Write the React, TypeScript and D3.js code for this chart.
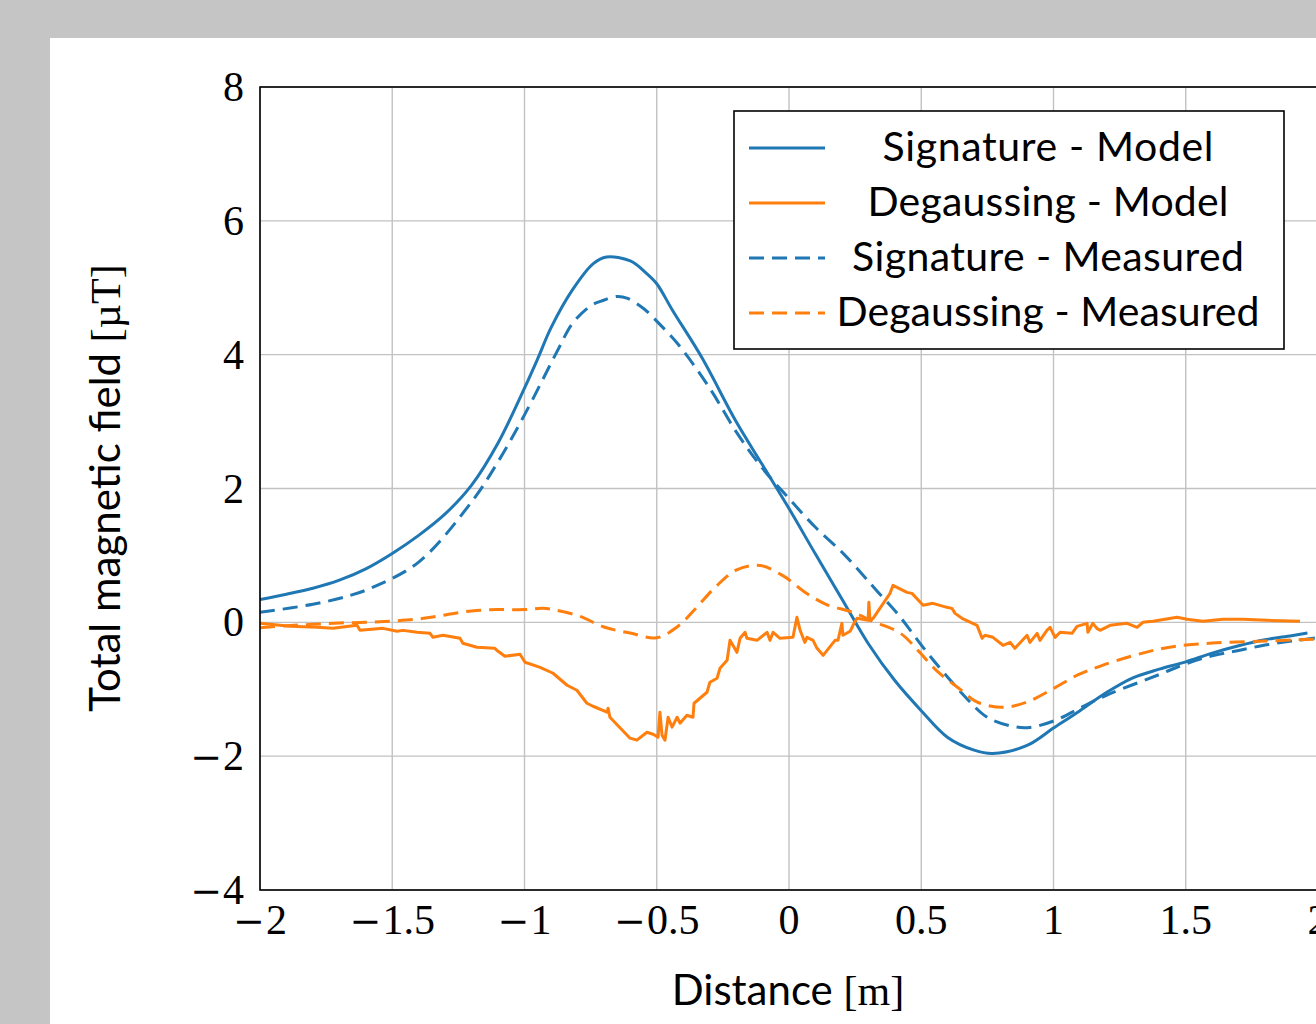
import React from "react";
import * as d3 from "d3";

// ---------- data (x in m, y in µT) ----------
const sigModelX = [-2.0, -1.9, -1.8, -1.7, -1.6, -1.5, -1.4, -1.3, -1.2, -1.1, -1.0, -0.95, -0.9, -0.82, -0.74, -0.69, -0.6, -0.54, -0.5, -0.44, -0.33, -0.2, -0.1, 0.0, 0.1, 0.2, 0.3, 0.4, 0.5, 0.6, 0.7, 0.77, 0.9, 1.0, 1.1, 1.2, 1.3, 1.4, 1.5, 1.6, 1.7, 1.8, 1.9, 1.96];
const sigModelY = [0.34, 0.42, 0.51, 0.63, 0.8, 1.03, 1.3, 1.62, 2.05, 2.68, 3.5, 3.94, 4.4, 4.96, 5.36, 5.46, 5.4, 5.22, 5.06, 4.66, 3.96, 3.0, 2.35, 1.7, 1.02, 0.35, -0.32, -0.87, -1.32, -1.72, -1.91, -1.96, -1.84, -1.58, -1.32, -1.05, -0.83, -0.7, -0.59, -0.46, -0.35, -0.26, -0.2, -0.16];

const sigMeasX = [-2.0, -1.8, -1.66, -1.57, -1.4, -1.2, -1.1, -1.0, -0.87, -0.82, -0.75, -0.71, -0.65, -0.61, -0.55, -0.49, -0.42, -0.3, -0.2, -0.1, 0.0, 0.1, 0.2, 0.27, 0.33, 0.41, 0.47, 0.53, 0.6, 0.67, 0.75, 0.84, 0.91, 1.01, 1.1, 1.2, 1.4, 1.5, 1.6, 1.7, 1.8, 1.9, 2.0];
const sigMeasY = [0.15, 0.27, 0.4, 0.53, 0.9, 1.8, 2.4, 3.1, 4.1, 4.46, 4.73, 4.8, 4.87, 4.84, 4.69, 4.46, 4.16, 3.5, 2.85, 2.3, 1.85, 1.42, 1.05, 0.75, 0.48, 0.13, -0.18, -0.49, -0.82, -1.13, -1.42, -1.55, -1.57, -1.46, -1.28, -1.09, -0.78, -0.62, -0.5, -0.42, -0.34, -0.28, -0.23];

const degMeasX = [-2.0, -1.9, -1.8, -1.7, -1.6, -1.5, -1.4, -1.3, -1.2, -1.1, -1.0, -0.93, -0.88, -0.79, -0.7, -0.6, -0.5, -0.42, -0.35, -0.28, -0.2, -0.11, -0.02, 0.06, 0.14, 0.24, 0.32, 0.42, 0.49, 0.56, 0.65, 0.71, 0.81, 0.9, 1.0, 1.09, 1.18, 1.3, 1.4, 1.5, 1.6, 1.8, 2.0];
const degMeasY = [-0.08, -0.05, -0.03, -0.01, 0.0, 0.02, 0.05, 0.11, 0.17, 0.19, 0.19, 0.21, 0.18, 0.09, -0.07, -0.16, -0.23, -0.06, 0.22, 0.52, 0.78, 0.85, 0.69, 0.45, 0.27, 0.15, 0.01, -0.16, -0.43, -0.73, -1.01, -1.19, -1.27, -1.19, -0.99, -0.79, -0.65, -0.5, -0.4, -0.34, -0.31, -0.28, -0.25];

const degModelX = [-2.0, -1.887, -1.785, -1.724, -1.633, -1.622, -1.535, -1.482, -1.459, -1.406, -1.357, -1.346, -1.308, -1.244, -1.233, -1.18, -1.112, -1.1, -1.074, -1.017, -0.998, -0.941, -0.892, -0.839, -0.802, -0.764, -0.741, -0.688, -0.684, -0.677, -0.601, -0.575, -0.537, -0.514, -0.495, -0.488, -0.48, -0.469, -0.457, -0.442, -0.423, -0.412, -0.386, -0.363, -0.359, -0.31, -0.299, -0.272, -0.261, -0.234, -0.223, -0.212, -0.197, -0.185, -0.166, -0.159, -0.121, -0.083, -0.072, -0.06, -0.034, 0.015, 0.03, 0.042, 0.06, 0.068, 0.091, 0.106, 0.129, 0.174, 0.185, 0.2, 0.204, 0.231, 0.242, 0.257, 0.299, 0.302, 0.306, 0.318, 0.382, 0.393, 0.446, 0.465, 0.507, 0.544, 0.597, 0.616, 0.628, 0.654, 0.711, 0.73, 0.741, 0.771, 0.809, 0.836, 0.854, 0.9, 0.911, 0.938, 0.949, 0.975, 0.987, 1.006, 1.025, 1.07, 1.089, 1.127, 1.13, 1.149, 1.164, 1.176, 1.214, 1.278, 1.316, 1.338, 1.376, 1.467, 1.505, 1.565, 1.641, 1.716, 1.807, 1.932];
const degModelY = [-0.015, -0.06, -0.075, -0.09, -0.045, -0.12, -0.09, -0.134, -0.12, -0.149, -0.164, -0.224, -0.194, -0.239, -0.313, -0.373, -0.388, -0.433, -0.507, -0.478, -0.597, -0.672, -0.761, -0.94, -1.015, -1.209, -1.254, -1.343, -1.284, -1.418, -1.731, -1.761, -1.642, -1.672, -1.716, -1.343, -1.687, -1.761, -1.418, -1.567, -1.418, -1.507, -1.388, -1.418, -1.209, -1.045, -0.896, -0.836, -0.687, -0.567, -0.269, -0.343, -0.448, -0.239, -0.149, -0.239, -0.269, -0.149, -0.269, -0.149, -0.239, -0.224, 0.075, -0.119, -0.299, -0.224, -0.269, -0.388, -0.493, -0.269, -0.269, -0.015, -0.194, -0.134, -0.045, 0.06, 0.03, 0.299, 0.03, 0.06, 0.433, 0.552, 0.448, 0.433, 0.254, 0.284, 0.224, 0.209, 0.134, 0.06, -0.045, -0.239, -0.194, -0.224, -0.343, -0.299, -0.388, -0.194, -0.299, -0.164, -0.269, -0.119, -0.075, -0.224, -0.149, -0.164, -0.06, -0.015, -0.149, -0.015, -0.09, -0.119, -0.045, -0.015, -0.075, 0.0, 0.015, 0.075, 0.045, 0.015, 0.045, 0.045, 0.03, 0.015];

const xTicks = [-2, -1.5, -1, -0.5, 0, 0.5, 1, 1.5, 2];
const yTicks = [-4, -2, 0, 2, 4, 6, 8];
const legendLabels = ["Signature - Model", "Degaussing - Model", "Signature - Measured", "Degaussing - Measured"];
const legendWidths = [331, 361, 392, 423];

const BLUE = "#1f77b4";
const ORANGE = "#ff7f0e";

function fmt(v: number): { neg: boolean; s: string } {
  return { neg: v < 0, s: String(Math.abs(v)) };
}

export default function App() {
  const x = d3.scaleLinear().domain([-2, 2]).range([260, 1318]);
  const y = d3.scaleLinear().domain([-4, 8]).range([890, 87]);
  const smooth = d3
    .line<[number, number]>()
    .x((d) => x(d[0]))
    .y((d) => y(d[1]))
    .curve(d3.curveCatmullRom.alpha(0.5));
  const linear = d3
    .line<[number, number]>()
    .x((d) => x(d[0]))
    .y((d) => y(d[1]));
  const zip = (a: number[], b: number[]) => a.map((v, i) => [v, b[i]] as [number, number]);

  const series = [
    { d: zip(sigModelX, sigModelY), c: BLUE, dash: undefined as string | undefined, gen: smooth },
    { d: zip(degModelX, degModelY), c: ORANGE, dash: undefined, gen: linear },
    { d: zip(sigMeasX, sigMeasY), c: BLUE, dash: "15 8", gen: smooth },
    { d: zip(degMeasX, degMeasY), c: ORANGE, dash: "15 8", gen: smooth },
  ];

  const serif = "'Liberation Serif', 'Times New Roman', serif";
  const minusFont = "'DejaVu Serif', serif";
  const sans = "Lato, 'Open Sans', sans-serif";

  const tickText = (t: number) => {
    const f = fmt(t);
    return f.neg
      ? [
          <tspan key="m" fontFamily={minusFont} fontSize={38}>−</tspan>,
          <tspan key="n" dx={1}>{f.s}</tspan>,
        ]
      : f.s;
  };

  return (
    <svg
      width={1316}
      height={1024}
      style={{ position: "absolute", left: 0, top: 0, display: "block" }}
    >
      <rect x={0} y={0} width={1316} height={1024} fill="#c4c5c4" />
      <rect x={50} y={38} width={1266} height={986} fill="#ffffff" />
      <defs>
        <clipPath id="plotclip">
          <rect x={260} y={87} width={1058} height={803} />
        </clipPath>
      </defs>
      {/* grid */}
      <g stroke="#c2c2c2" strokeWidth={1.4}>
        {xTicks.map((t) => (
          <line key={"gx" + t} x1={x(t)} x2={x(t)} y1={y(8)} y2={y(-4)} />
        ))}
        {yTicks.map((t) => (
          <line key={"gy" + t} x1={x(-2)} x2={x(2)} y1={y(t)} y2={y(t)} />
        ))}
      </g>
      {/* series */}
      <g clipPath="url(#plotclip)" fill="none" strokeWidth={3} strokeLinejoin="round">
        {series.map((s, i) => (
          <path key={i} d={s.gen(s.d) || ""} stroke={s.c} strokeDasharray={s.dash} />
        ))}
      </g>
      {/* frame */}
      <rect x={x(-2)} y={y(8)} width={x(2) - x(-2)} height={y(-4) - y(8)} fill="none" stroke="#000" strokeWidth={1.6} />
      {/* tick labels */}
      <g fontFamily={serif} fontSize={42} fill="#000">
        {xTicks.map((t) => (
          <text key={"xt" + t} x={x(t)} y={934} textAnchor="middle">
            {tickText(t)}
          </text>
        ))}
        {yTicks.map((t) => (
          <text key={"yt" + t} x={244} y={y(t) + 14} textAnchor="end">
            {tickText(t)}
          </text>
        ))}
      </g>
      {/* axis labels */}
      <text x={788} y={1005} textAnchor="middle" fontSize={42} fill="#000">
        <tspan fontFamily={sans}>Distance </tspan>
        <tspan fontFamily={serif}>[m]</tspan>
      </text>
      <text transform="translate(120,488) rotate(-90)" textAnchor="middle" fontSize={42} fill="#000">
        <tspan fontFamily={sans}>Total magnetic field </tspan>
        <tspan fontFamily={serif}>[µT]</tspan>
      </text>
      {/* legend */}
      <rect x={734} y={111} width={550} height={238} fill="#fff" stroke="#000" strokeWidth={1.6} />
      {series.map((s, i) => (
        <g key={"lg" + i}>
          <line x1={749} x2={825} y1={148 + i * 55} y2={148 + i * 55} stroke={s.c} strokeWidth={3} strokeDasharray={s.dash} />
          <text
            x={1048}
            y={161 + i * 55}
            textAnchor="middle"
            fontFamily={sans}
            fontSize={41}
            textLength={legendWidths[i]}
            lengthAdjust="spacing"
            fill="#000"
          >
            {legendLabels[i]}
          </text>
        </g>
      ))}
    </svg>
  );
}
